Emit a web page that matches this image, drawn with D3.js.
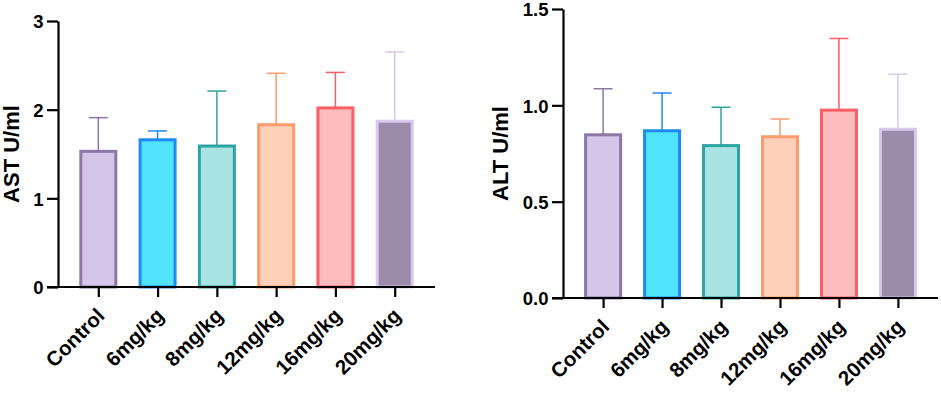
<!DOCTYPE html>
<meta charset="utf-8">
<script src="https://d3js.org/d3.v7.min.js"></script>
<style>
  body{margin:0;background:#fff;}
  text{font-family:"Liberation Sans",Arial,sans-serif;font-weight:bold;fill:#000;}
</style>
<body>
<div id="chart"></div>
<script>
const groups=["Control","6mg/kg","8mg/kg","12mg/kg","16mg/kg","20mg/kg"];
const astMean=[1.53,1.66,1.59,1.83,2.02,1.87];
const astSD=[0.38,0.10,0.62,0.58,0.40,0.78];
const altMean=[0.847,0.868,0.791,0.837,0.975,0.876];
const altSD=[0.239,0.196,0.199,0.092,0.372,0.286];
const astTicks=[0,1,2,3];
const altTicks=[0,0.5,1.0,1.5];

const fills=["#d5c5e9","#4fe3fd","#a9e3e3","#fed0b9","#febcbf","#9c8aab"];
const strokes=["#8d77a7","#2088f2","#2da4a4","#fc9b6c","#fb5e66","#d8c8ee"];

const svg=d3.select("#chart").append("svg")
    .attr("width",941).attr("height",395);

function panel(o){
    const g=svg.append("g");
    const x=d3.scalePoint().domain(groups).range([o.left,o.right]).padding(0.68);
    const y=d3.scaleLinear().domain([0,o.max]).range([o.bottom,o.top]);
    const bw=35;

    // error bars, behind the bars
    const eb=g.selectAll(".err").data(groups).join("g");
    eb.append("line")
        .attr("x1",d=>x(d)).attr("x2",d=>x(d))
        .attr("y1",(d,i)=>y(o.mean[i])).attr("y2",(d,i)=>y(o.mean[i]+o.sd[i]))
        .attr("stroke",(d,i)=>strokes[i]).attr("stroke-width",1.5);
    eb.append("line")
        .attr("x1",d=>x(d)-9.5).attr("x2",d=>x(d)+9.5)
        .attr("y1",(d,i)=>y(o.mean[i]+o.sd[i])).attr("y2",(d,i)=>y(o.mean[i]+o.sd[i]))
        .attr("stroke",(d,i)=>strokes[i]).attr("stroke-width",1.5);

    g.selectAll(".bar").data(groups).join("rect")
        .attr("x",d=>x(d)-bw/2)
        .attr("y",(d,i)=>y(o.mean[i]))
        .attr("width",bw)
        .attr("height",(d,i)=>y(0)-y(o.mean[i]))
        .attr("fill",(d,i)=>fills[i])
        .attr("stroke",(d,i)=>strokes[i])
        .attr("stroke-width",3);

    // y axis
    const ya=g.append("g")
        .attr("transform",`translate(${o.left},0)`)
        .call(d3.axisLeft(y).tickValues(o.ticks).tickFormat(o.fmt).tickSize(11).tickSizeOuter(0));
    ya.select(".domain").attr("stroke-width",2.2);
    ya.selectAll(".tick line").attr("stroke-width",2.2);
    ya.selectAll("text").style("font-size","18.5px").attr("x",-14.5).attr("dy","0.36em");

    // x axis
    const xa=g.append("g")
        .attr("transform",`translate(0,${o.bottom})`)
        .call(d3.axisBottom(x).tickSize(10).tickSizeOuter(0));
    xa.select(".domain").attr("d",`M${o.left-11},0H${o.right}`).attr("stroke-width",2.2);
    xa.selectAll(".tick line").attr("stroke-width",2.2);
    xa.selectAll("text")
        .style("font-size","20.5px")
        .attr("y",0).attr("dy",0)
        .attr("text-anchor","end")
        .attr("transform","translate(7,30)rotate(-45)");

    g.append("text")
        .attr("transform",`translate(${o.titleX},${(o.top+o.bottom)/2})rotate(-90)`)
        .attr("text-anchor","middle")
        .attr("dy","0.35em")
        .style("font-size","22px")
        .text(o.title);
}

panel({left:58,right:435,top:21,bottom:287,max:3,mean:astMean,sd:astSD,
    ticks:astTicks,fmt:d3.format("d"),title:"AST U/ml",titleX:11});
panel({left:563,right:938,top:9,bottom:298,max:1.5,mean:altMean,sd:altSD,
    ticks:altTicks,fmt:d3.format(".1f"),title:"ALT U/ml",titleX:500});
</script>
</body>
